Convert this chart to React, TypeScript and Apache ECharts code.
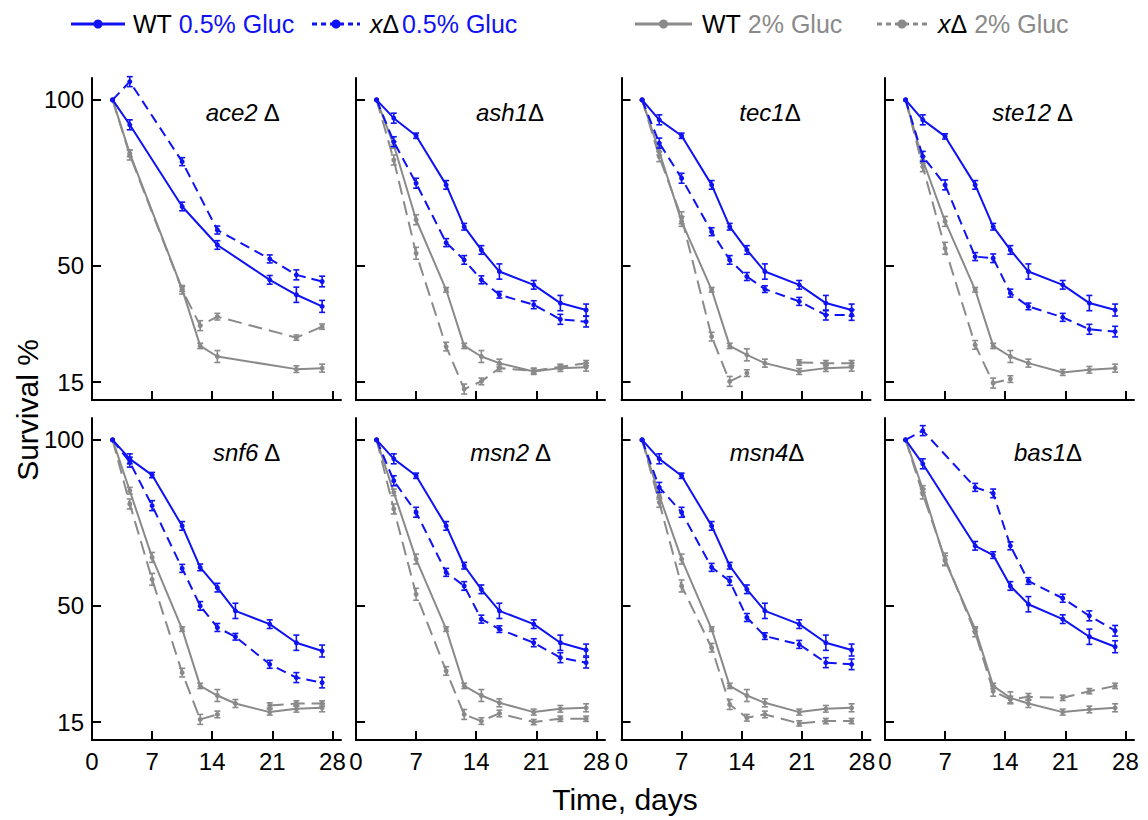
import React, { useEffect, useRef } from "react";
import * as echarts from "echarts";

// ---------- data ----------
const DAYS = [2.4, 4.4, 7, 10.5, 12.6, 14.6, 16.7, 20.7, 23.8, 26.8];
const X_TICKS = [0, 7, 14, 21, 28];
const Y_TICKS = [15, 50, 100];
const GAP = -1; // a missing point where the line is broken
const GENES = ["ace2", "ash1", "tec1", "ste12", "snf6", "msn2", "msn4", "bas1"];

// survival % (null = no point, line connects across it)
const ace2_wt05 = [100, 92.5, null, 67.9, null, 56.3, null, 45.8, 41.3, 37.8];
const ace2_ko05 = [100, 105.5, null, 81.4, null, 60.8, null, 52.1, 47.3, 45.3];
const ace2_wt2 = [100, 83.9, null, 43.0, 25.9, 22.7, null, null, 18.9, 19.2];
const ace2_ko2 = [100, 83.4, null, 42.8, 32.0, 34.7, null, null, 28.4, 31.7];

const ash1_wt05 = [100, 94.5, 89.2, 74.4, 61.8, 54.8, 48.3, 44.3, 38.8, 36.7];
const ash1_ko05 = [100, 87.4, 74.9, 57.0, 51.8, 45.8, 41.3, 38.3, 33.9, 33.2];
const ash1_wt2 = [100, 86.4, 63.9, 42.8, 25.9, 22.7, 20.7, 18.2, 19.2, 19.5];
const ash1_ko2 = [100, 81.9, 53.8, 25.7, 12.9, 15.2, 19.2, 18.4, 19.6, 20.7];

const tec1_wt05 = [100, 94.0, 89.2, 74.4, 61.8, 54.8, 48.3, 44.3, 38.8, 36.7];
const tec1_ko05 = [100, 87.0, 76.4, 60.3, 51.8, 46.8, 43.0, 39.3, 35.2, 35.2];
const tec1_wt2 = [100, 84.4, 63.4, 42.8, 25.9, 23.2, 20.7, 18.2, 19.2, 19.5];
const tec1_ko2 = [100, 82.9, 64.5, 28.7, 15.2, 17.7, GAP, 20.9, 20.7, 20.7];

const ste12_wt05 = [100, 94.0, 89.0, 74.4, 61.8, 54.8, 48.3, 44.3, 38.8, 36.7];
const ste12_ko05 = [100, 83.0, 74.4, 52.8, 52.3, 41.8, 37.8, 34.5, 30.9, 30.2];
const ste12_wt2 = [100, 81.9, 63.4, 42.8, 25.9, 22.7, 20.7, 17.9, 18.7, 19.2];
const ste12_ko2 = [100, 79.9, 55.3, 26.2, 14.7, 15.9, null, null, null, null];

const snf6_wt05 = [100, 94.3, 89.4, 74.1, 61.6, 55.5, 48.5, 44.5, 38.9, 36.4];
const snf6_ko05 = [100, 93.3, 80.2, 61.3, 50.0, 43.5, 40.7, 32.4, 28.4, 26.9];
const snf6_wt2 = [100, 84.7, 64.6, 43.0, 25.9, 23.0, 20.6, 18.0, 19.0, 19.3];
const snf6_ko2 = [100, 80.7, 58.0, 29.9, 15.8, 17.3, GAP, 20.0, 20.6, 20.6];

const msn2_wt05 = [100, 94.3, 89.2, 74.1, 62.1, 55.0, 48.5, 44.5, 38.9, 36.7];
const msn2_ko05 = [100, 87.7, 78.2, 60.1, 56.0, 46.0, 43.0, 38.9, 34.4, 32.9];
const msn2_wt2 = [100, 84.2, 64.1, 43.0, 25.9, 23.0, 20.8, 18.0, 19.0, 19.3];
const msn2_ko2 = [100, 79.2, 53.5, 30.4, 17.3, 15.3, 17.6, 15.0, 16.0, 16.0];

const msn4_wt05 = [100, 94.3, 89.2, 74.1, 62.1, 55.0, 48.5, 44.5, 38.9, 36.7];
const msn4_ko05 = [100, 85.7, 78.2, 61.6, 57.5, 46.5, 40.9, 38.4, 32.9, 32.4];
const msn4_wt2 = [100, 83.2, 64.1, 43.0, 25.9, 23.0, 20.8, 18.0, 19.0, 19.3];
const msn4_ko2 = [100, 81.2, 56.0, 37.4, 20.3, 16.3, 17.3, 14.6, 15.3, 15.3];

const bas1_wt05 = [100, 92.8, null, 68.1, 65.3, 56.0, 50.5, 46.0, 40.7, 37.7];
const bas1_ko05 = [100, 102.8, null, 85.7, 83.9, 68.1, 57.5, 52.3, 47.0, 42.5];
const bas1_wt2 = [100, 85.2, 63.6, 43.0, 25.9, 22.3, 20.6, 18.0, 18.8, 19.3];
const bas1_ko2 = [100, 83.7, 64.1, 42.0, 24.3, 21.8, 22.6, 22.3, 24.3, 25.9];

// standard errors (± survival %)
const ERR_WT05 = [0, 1.5, 0.8, 1.3, 1.0, 1.3, 2.3, 1.3, 2.3, 1.8];
const ERR_KO05 = [0, 1.5, 1.5, 1.2, 1.3, 1.2, 1.0, 1.2, 1.5, 1.6];
const ERR_WT2 = [0, 1.0, 1.5, 0.7, 0.8, 1.8, 1.2, 0.9, 1.0, 1.2];
const ERR_KO2 = [0, 1.5, 1.8, 1.3, 1.5, 1.0, 1.0, 0.8, 0.8, 0.8];

const PANEL_VALUES = [
  [ace2_wt05, ace2_ko05, ace2_wt2, ace2_ko2],
  [ash1_wt05, ash1_ko05, ash1_wt2, ash1_ko2],
  [tec1_wt05, tec1_ko05, tec1_wt2, tec1_ko2],
  [ste12_wt05, ste12_ko05, ste12_wt2, ste12_ko2],
  [snf6_wt05, snf6_ko05, snf6_wt2, snf6_ko2],
  [msn2_wt05, msn2_ko05, msn2_wt2, msn2_ko2],
  [msn4_wt05, msn4_ko05, msn4_wt2, msn4_ko2],
  [bas1_wt05, bas1_ko05, bas1_wt2, bas1_ko2],
];
const ERRS = [ERR_WT05, ERR_KO05, ERR_WT2, ERR_KO2];

// ---------- layout / style ----------
const BLUE = "#0f12f2";
const GRAY = "#8a8a8a";
const FONT = "'Liberation Sans', Arial, Helvetica, sans-serif";
const GRID_LEFT = [92, 356, 621.5, 885];
const GRID_TOP = [78, 418];
const GRID_W = 249;
const GRID_H = 322;
const TITLE_X = [243, 510, 770, 1033, 247, 511, 767, 1048];
const TITLE_Y = [112, 452];
const TITLE_SPACE = [true, false, false, true, true, true, false, false];

const SERIES_STYLE = [
  { color: BLUE, dash: "solid" as any, z: 5 },
  { color: BLUE, dash: [10, 6], z: 4 },
  { color: GRAY, dash: "solid" as any, z: 3 },
  { color: GRAY, dash: [14, 7], z: 2 },
];

function buildOption() {
  const grid: any[] = [];
  const xAxis: any[] = [];
  const yAxis: any[] = [];
  const series: any[] = [];
  const graphic: any[] = [];

  for (let p = 0; p < 8; p++) {
    const row = Math.floor(p / 4);
    const col = p % 4;
    grid.push({ left: GRID_LEFT[col], top: GRID_TOP[row], width: GRID_W, height: GRID_H });
    const axisLine = { show: true, onZero: false, lineStyle: { color: "#000", width: 2 } };
    xAxis.push({
      type: "value",
      gridIndex: p,
      min: 0,
      max: 29,
      axisLine,
      axisTick: { show: true, inside: true, length: 9, customValues: X_TICKS, lineStyle: { color: "#000", width: 2 } },
      axisLabel: { show: row === 1, customValues: X_TICKS, fontSize: 24, color: "#000", fontFamily: FONT, margin: 9 },
      splitLine: { show: false },
    });
    yAxis.push({
      type: "value",
      gridIndex: p,
      min: 9.6,
      max: 106.6,
      axisLine,
      axisTick: { show: true, inside: true, length: 9, customValues: Y_TICKS, lineStyle: { color: "#000", width: 2 } },
      axisLabel: { show: col === 0, customValues: Y_TICKS, fontSize: 24, color: "#000", fontFamily: FONT, margin: 8 },
      splitLine: { show: false },
    });

    const vals = PANEL_VALUES[p];
    for (let s = 3; s >= 0; s--) {
      const st = SERIES_STYLE[s];
      const arr = vals[s];
      const lineData: any[] = [];
      const errData: any[] = [];
      arr.forEach((v, j) => {
        if (v === null) return;
        if (v === GAP) {
          lineData.push([DAYS[j], "-"]);
          return;
        }
        lineData.push([DAYS[j], v]);
        const e = ERRS[s][j];
        if (e > 0) errData.push([DAYS[j], v - e, v + e]);
      });
      series.push({
        type: "line",
        xAxisIndex: p,
        yAxisIndex: p,
        data: lineData,
        connectNulls: false,
        symbol: "circle",
        symbolSize: 5,
        showSymbol: true,
        itemStyle: { color: st.color },
        lineStyle: { color: st.color, width: 2, type: st.dash },
        z: st.z,
        silent: true,
      });
      const color = st.color;
      series.push({
        type: "custom",
        xAxisIndex: p,
        yAxisIndex: p,
        data: errData,
        encode: { x: 0, y: [1, 2] },
        z: st.z,
        silent: true,
        renderItem: (params: any, api: any) => {
          const x = api.value(0);
          const a = api.coord([x, api.value(2)]);
          const b = api.coord([x, api.value(1)]);
          const w = 3;
          const style = { stroke: color, lineWidth: 1.6 };
          return {
            type: "group",
            children: [
              { type: "line", shape: { x1: a[0], y1: a[1], x2: b[0], y2: b[1] }, style },
              { type: "line", shape: { x1: a[0] - w, y1: a[1], x2: a[0] + w, y2: a[1] }, style },
              { type: "line", shape: { x1: b[0] - w, y1: b[1], x2: b[0] + w, y2: b[1] }, style },
            ],
          };
        },
      });
    }

    graphic.push({
      type: "text",
      x: TITLE_X[p],
      y: TITLE_Y[row],
      style: {
        text: `{g|${GENES[p]}}{d|${TITLE_SPACE[p] ? " " : ""}Δ}`,
        align: "center",
        verticalAlign: "middle",
        fill: "#000",
        font: `24px ${FONT}`,
        rich: {
          g: { fontStyle: "italic", fontSize: 24, fontFamily: FONT, fill: "#000", color: "#000" },
          d: { fontSize: 24, fontFamily: FONT, fill: "#000", color: "#000" },
        },
      },
    });
  }

  // axis titles
  graphic.push({
    type: "text",
    x: 27,
    y: 410,
    rotation: Math.PI / 2,
    style: { text: "Survival %", align: "center", verticalAlign: "middle", fill: "#000", font: `30px ${FONT}` },
  });
  graphic.push({
    type: "text",
    x: 625,
    y: 799,
    style: { text: "Time, days", align: "center", verticalAlign: "middle", fill: "#000", font: `30px ${FONT}` },
  });

  // legend
  const LY = 24;
  const legendItems = [
    { x1: 71, x2: 125, c: BLUE, dash: null as any, tx: 133, text: "{k|WT} {c|0.5% Gluc}" },
    { x1: 312, x2: 360, c: BLUE, dash: [5, 4], tx: 370, text: "{i|x}{k|Δ}{sp| }{c|0.5% Gluc}" },
    { x1: 635, x2: 692, c: GRAY, dash: null as any, tx: 702, text: "{k|WT} {c|2% Gluc}" },
    { x1: 877, x2: 927, c: GRAY, dash: [5, 4], tx: 938, text: "{i|x}{k|Δ} {c|2% Gluc}" },
  ];
  legendItems.forEach((it) => {
    graphic.push({
      type: "line",
      shape: { x1: it.x1, y1: LY, x2: it.x2, y2: LY },
      style: { stroke: it.c, lineWidth: 3, lineDash: it.dash || undefined },
    });
    graphic.push({
      type: "circle",
      shape: { cx: (it.x1 + it.x2) / 2, cy: LY, r: 4.5 },
      style: { fill: it.c },
    });
    graphic.push({
      type: "text",
      x: it.tx,
      y: LY,
      style: {
        text: it.text,
        align: "left",
        verticalAlign: "middle",
        font: `25px ${FONT}`,
        fill: "#000",
        rich: {
          k: { fontSize: 25, fontFamily: FONT, fill: "#000", color: "#000" },
          i: { fontSize: 25, fontFamily: FONT, fontStyle: "italic", fill: "#000", color: "#000" },
          sp: { fontSize: 10, fontFamily: FONT },
          c: { fontSize: 25, fontFamily: FONT, fill: it.c, color: it.c },
        },
      },
    });
  });

  return {
    animation: false,
    backgroundColor: "#fff",
    grid,
    xAxis,
    yAxis,
    series,
    graphic,
  };
}

export default function App() {
  const ref = useRef<HTMLDivElement>(null);
  useEffect(() => {
    if (!ref.current) return;
    const chart = echarts.init(ref.current, undefined, { renderer: "svg" });
    chart.setOption(buildOption() as any);
    return () => chart.dispose();
  }, []);
  return (
    <div
      ref={ref}
      style={{ position: "fixed", left: 0, top: 0, width: 1148, height: 820, background: "#fff" }}
    />
  );
}
